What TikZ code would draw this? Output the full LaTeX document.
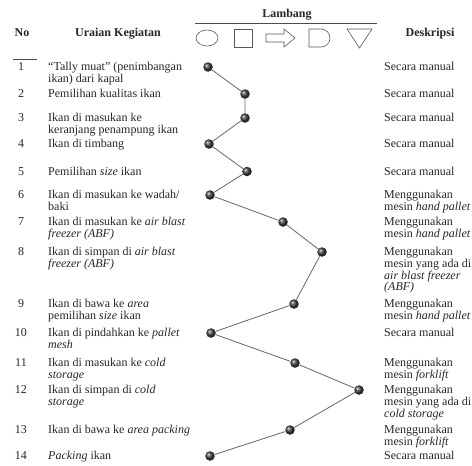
\documentclass[tikz,border=0pt]{standalone}
\usepackage{fontspec}
\setmainfont{Liberation Serif}
\usetikzlibrary{positioning,shapes.geometric}
\newcommand{\lines}[1]{\begin{tabular}[t]{@{}l@{}}#1\end{tabular}}
\tikzset{
  txt/.style={anchor=base west,inner sep=0pt,text=black!85,font=\fontsize{12}{11.5}\selectfont},
  num/.style={anchor=base,inner sep=0pt,text=black!85,font=\fontsize{12}{11.5}\selectfont},
  head/.style={anchor=base,inner sep=0pt,text=black!85,font=\fontsize{12}{12}\selectfont\bfseries},
  sym/.style={draw=black!65,line width=0.6pt},
  dot/.style={circle,inner sep=0pt,minimum size=9.5pt,shading=ball,ball color=black!75},
  link/.style={draw=black!60,line width=0.8pt}
}
\begin{document}
\begin{tikzpicture}[x=1pt,y=-1pt]
    \useasboundingbox (0,0) rectangle (472,466);
    \node[head] (no) at (22,36) {No};
    \node[head] (uraian) at (118,36) {Uraian Kegiatan};
    \node[head] (lambang) at (287,17) {Lambang};
    \node[head] (deskripsi) at (430,36) {Deskripsi};
    \draw[black!70,line width=0.6pt] (195,23) -- (377,23);
    \draw[black!70,line width=0.6pt] (13,59) -- (37,59);
    \draw[sym] (207,38) ellipse [x radius=11,y radius=8];
    \draw[sym] (234,29) rectangle (252,47);
    \draw[sym] (266,34) -- (284,34) -- (284,29) -- (295,38) -- (284,47) -- (284,42) -- (266,42) -- cycle;
    \draw[sym] (309,29) -- (321,29) arc[start angle=-90,end angle=90,radius=9] -- (309,47) -- cycle;
    \draw[sym] (347,29) -- (372,29) -- (359.5,48) -- cycle;
    \foreach \i/\y/\dx/\ur/\de in {
      1/70.5/208/{“Tally muat” (penimbangan\\ikan) dari kapal}/{Secara manual},
      2/97.5/245/{Pemilihan kualitas ikan}/{Secara manual},
      3/121.5/245/{Ikan di masukan ke\\keranjang penampung ikan}/{Secara manual},
      4/147.5/209/{Ikan di timbang}/{Secara manual},
      5/175/247/{Pemilihan \textit{size} ikan}/{Secara manual},
      6/198.5/210/{Ikan di masukan ke wadah/\\baki}/{Menggunakan\\mesin \textit{hand pallet}},
      7/225.5/283/{Ikan di masukan ke \textit{air blast}\\\textit{freezer (ABF)}}/{Menggunakan\\mesin \textit{hand pallet}},
      8/255.5/322/{Ikan di simpan di \textit{air blast}\\\textit{freezer (ABF)}}/{Menggunakan\\mesin yang ada di\\\textit{air blast freezer}\\\textit{(ABF)}},
      9/307.5/294/{Ikan di bawa ke \textit{area}\\pemilihan \textit{size} ikan}/{Menggunakan\\mesin \textit{hand pallet}},
      10/336.5/211/{Ikan di pindahkan ke \textit{pallet}\\\textit{mesh}}/{Secara manual},
      11/366.5/295/{Ikan di masukan ke \textit{cold}\\\textit{storage}}/{Menggunakan\\mesin \textit{forklift}},
      12/393.5/359/{Ikan di simpan di \textit{cold}\\\textit{storage}}/{Menggunakan\\mesin yang ada di\\\textit{cold storage}},
      13/433.5/290/{Ikan di bawa ke \textit{area packing}}/{Menggunakan\\mesin \textit{forklift}},
      14/459.5/210/{\textit{Packing} ikan}/{Secara manual}}
    {
      \node[num] (n\i) at (21,\y) {\i};
      \node[txt] (u\i) at (48,\y) {\lines{\ur}};
      \node[txt] (k\i) at (384,\y) {\lines{\de}};
      \node[dot] (d\i) at (\dx,\y-3.5) {};
    }
    \draw[link] (d1) -- (d2) -- (d3) -- (d4) -- (d5) -- (d6) -- (d7) -- (d8) -- (d9) -- (d10) -- (d11) -- (d12) -- (d13) -- (d14);
\end{tikzpicture}
\end{document}
